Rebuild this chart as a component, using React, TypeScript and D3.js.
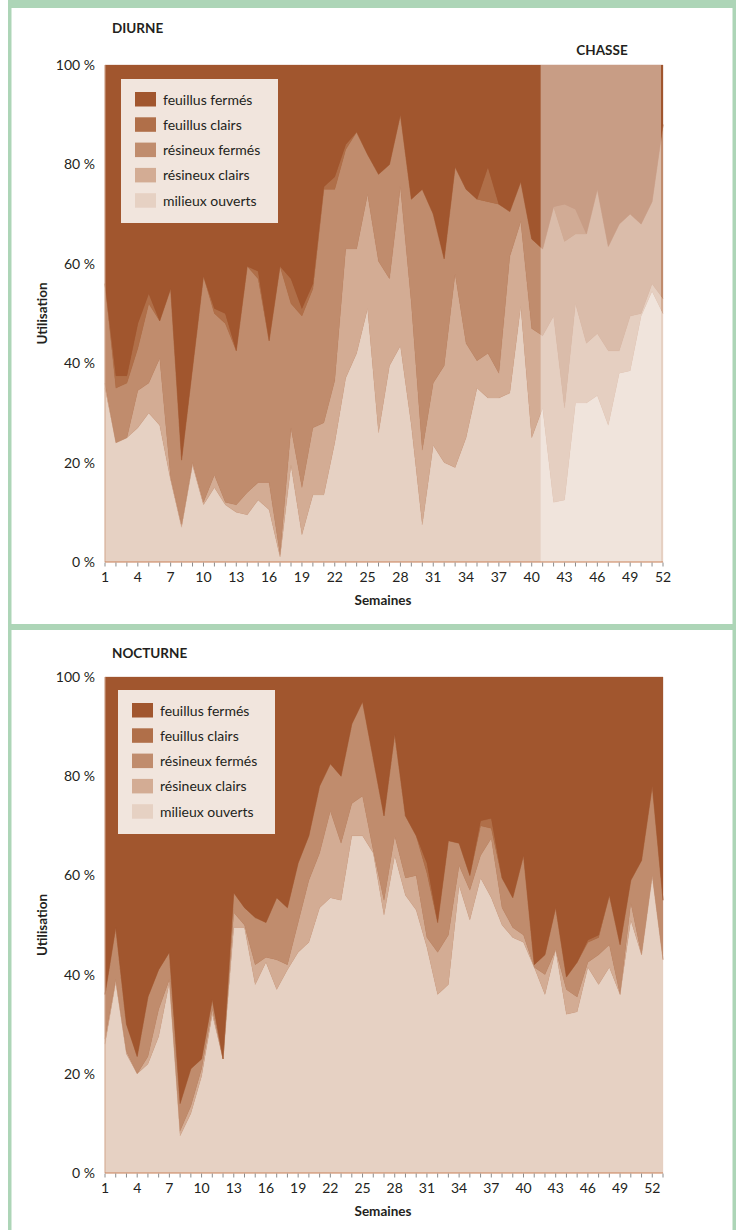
import React from 'react';
import * as d3 from 'd3';

// ---------- categories ----------
const weeksDiurne = [1,2,3,4,5,6,7,8,9,10,11,12,13,14,15,16,17,18,19,20,21,22,23,24,25,26,27,28,29,30,31,32,33,34,35,36,37,38,39,40,41,42,43,44,45,46,47,48,49,50,51,52];
const weeksNocturne = [1,2,3,4,5,6,7,8,9,10,11,12,13,14,15,16,17,18,19,20,21,22,23,24,25,26,27,28,29,30,31,32,33,34,35,36,37,38,39,40,41,42,43,44,45,46,47,48,49,50,51,52,53];
const xTickLabels = [1,4,7,10,13,16,19,22,25,28,31,34,37,40,43,46,49,52];
const yTickValues = [0,20,40,60,80,100];

// ---------- series names & colours ----------
const seriesKeys = ['mo','rc','rf','fc','ff'];
const legendNames = ['feuillus fermés','feuillus clairs','résineux fermés','résineux clairs','milieux ouverts'];
const legendKeys = ['ff','fc','rf','rc','mo'];
const seriesColors: Record<string,string> = {
  ff: '#a1562e',
  fc: '#b06f49',
  rf: '#c08c6d',
  rc: '#d3ac94',
  mo: '#e6d1c3',
};

// ---------- DIURNE (% use per week) ----------
const diurneMilieuxOuverts = [35,24,25,27,30,27.5,16.5,7,19.5,11.5,15,11.5,10,9.5,12.5,10.5,1,19.5,5.5,13.5,13.5,24,37,42,51,26,39.5,43.5,27.5,7.5,23.5,20,19,25,35,33,33,34,51.5,25,31,12,12.5,32,32,33.5,27.5,38,38.5,49.5,54.5,50];
const diurneResineuxClairs = [1,0,0,7.5,6,13.5,0.5,0.5,0.5,0.5,2.5,0.5,1.5,4.5,3.5,5.5,0.5,7.5,9.5,13.5,14.5,12.5,26,21,23,34.5,17.5,32,24.5,15,12.5,19.5,39,19,5.5,9,5,27.5,17,22,14.5,37.5,18.5,20,12,12.5,15,4.5,11,0.5,1.5,3];
const diurneResineuxFermes = [20,11,11,8.5,16,7.5,38,13,19,45.5,32.5,36,31,45.5,41,28.5,58,25,34.5,28,47,38.5,20,23.5,8,17.5,23,14.5,21,52.5,34,21.5,21.5,31,32.5,30.5,34,9,8,18,17.5,22,33.5,14,22,29,21,25.5,20.5,18,16.5,35];
const diurneFeuillusClairs = [0,2.5,1.5,5,2,0,0,0,0,0,1,2,0,0,1.5,0,0,5,1.5,1,0.5,2.5,1,0,0,0,0,0,0,0,0,0,0,0,0,7,0,0,0,0,0,0,7.5,5,0,0,0,0,0,0,0,0];
const diurneFeuillusFermes = [44,62.5,62.5,52,46,51.5,45,79.5,61,42.5,49,50,57.5,40.5,41.5,55.5,40.5,43,49,44,24.5,22.5,16,13.5,18,22,20,10,27,25,30,39,20.5,25,27,20.5,28,29.5,23.5,35,37,28.5,28,29,34,25,36.5,32,30,32,27.5,12];

// ---------- NOCTURNE (% use per week) ----------
const nocturneMilieuxOuverts = [26,38.5,24,20,22,27.5,38.5,7.5,12,19.5,32,23,49.5,49.5,38,42.5,37,41,44.5,46.5,53.5,55.5,55,68,68,64.5,52,64,56,53,45.5,36,38,58,51,59.5,55.5,50,47.5,46.5,41.5,36,45,32,32.5,41.5,38,41.5,36,51,44,60,43];
const nocturneResineuxClairs = [1,0.5,0.5,0,1.5,5.5,0.5,1,1.5,1.5,1,0,3,0.5,4,1,6,1,6,12.5,11,17.5,11.5,6.5,8,0.5,3,4,3.5,7,2,8.5,10,4,6,4.5,12,3.5,2,1.5,0,4,0,5,3,1,6,4.5,0,3.5,0,0,0];
const nocturneResineuxFermes = [9,10.5,5.5,3.5,12,8,5.5,5.5,7.5,2,2,0,4,3.5,9.5,7,12.5,11.5,12,9,13.5,9.5,13.5,16,19,18.5,17,20.5,12.5,8,13,6,19,4.5,3,6,2,6,6,16,0.5,4,8.5,2.5,7,4,3.5,10,10,4.5,19,18,12];
const nocturneFeuillusClairs = [0,0,0,0,0,0,0,0,0,0,0,0,0,0,0,0,0,0,0,0,0,0,0,0,0,0,0,0,0,0,2,0,0,0,0,1,2,0,0,0,0,0,0,0,0,0.5,0.5,0,0,0,0,0,0];
const nocturneFeuillusFermes = [64,50.5,70,76.5,64.5,59,55.5,86,79,77,65,77,43.5,46.5,48.5,49.5,44.5,46.5,37.5,32,22,17.5,20,9.5,5,16.5,28,11.5,28,32,37.5,49.5,33,33.5,40,29,28.5,40.5,44.5,36,58,56,46.5,60.5,57.5,53,52,44,54,41,37,22,45];

const FONT = 'Lato, "Open Sans", "DejaVu Sans", sans-serif';
const TXT = '#231f20';
const GREEN = '#add5b7';

type PanelProps = {
  weeks: number[];
  mo: number[]; rc: number[]; rf: number[]; fc: number[]; ff: number[];
  top: number; bottom: number; left: number; right: number;
  title: string; titleY: number;
  chasse?: boolean;
  legendX: number; legendY: number;
};

function Panel(p: PanelProps) {
  const rows = p.weeks.map((w, i) => ({ week: w, mo: p.mo[i], rc: p.rc[i], rf: p.rf[i], fc: p.fc[i], ff: p.ff[i] }));
  const x = d3.scaleLinear().domain([p.weeks[0], p.weeks[p.weeks.length - 1]]).range([p.left, p.right]);
  const y = d3.scaleLinear().domain([0, 100]).range([p.bottom, p.top]);
  const stack = d3.stack<any>().keys(seriesKeys);
  const layers = stack(rows);
  const area = d3.area<any>()
    .x((d: any) => x(d.data.week))
    .y0((d: any) => y(d[0]))
    .y1((d: any) => y(d[1]));
  const midY = (p.top + p.bottom) / 2;
  return (
    <g>
      <text x={112} y={p.titleY} fontFamily={FONT} fontWeight={700} fontSize={13.5} fill={TXT}>{p.title}</text>
      {p.chasse && (
        <text x={602} y={p.top - 10} textAnchor="middle" fontFamily={FONT} fontWeight={700} fontSize={13.5} fill={TXT}>CHASSE</text>
      )}
      <rect x={p.left} y={p.top} width={p.right - p.left} height={p.bottom - p.top} fill={seriesColors.ff} />
      {layers.map((L: any) => (
        <path key={L.key} d={area(L) || ''} fill={seriesColors[L.key]} stroke={seriesColors[L.key]} strokeWidth={0.3} />
      ))}
      {p.chasse && (
        <rect x={x(41) - 2} y={p.top} width={x(52) - 2 - (x(41) - 2)} height={p.bottom - p.top} fill="#ffffff" opacity={0.42} />
      )}
      <line x1={p.left} x2={p.left} y1={p.top} y2={p.bottom} stroke="#d2a88e" strokeWidth={1} />
      {yTickValues.map(v => (
        <text key={v} x={95} y={y(v)} dy="0.36em" textAnchor="end" fontFamily={FONT} fontSize={14} fill={TXT}>{v} %</text>
      ))}
      <line x1={p.left} x2={p.right} y1={p.bottom} y2={p.bottom} stroke="#c9825a" strokeWidth={1.2} />
      {p.weeks.map(w => (
        <line key={w} x1={x(w)} x2={x(w)} y1={p.bottom + 0.5} y2={p.bottom + 4.5} stroke="#8c8c8c" strokeWidth={1} />
      ))}
      {xTickLabels.map(w => (
        <text key={w} x={x(w)} y={p.bottom + 20} textAnchor="middle" fontFamily={FONT} fontSize={14} fill={TXT}>{w}</text>
      ))}
      <text x={383} y={p.bottom + 43} textAnchor="middle" fontFamily={FONT} fontWeight={700} fontSize={13.5} fill={TXT}>Semaines</text>
      <text transform={`translate(47,${midY}) rotate(-90)`} textAnchor="middle" fontFamily={FONT} fontWeight={700} fontSize={13.5} fill={TXT}>Utilisation</text>
      <rect x={p.legendX} y={p.legendY} width={157} height={144} fill="#f1e5dd" />
      {legendKeys.map((k, i) => (
        <g key={k}>
          <rect x={p.legendX + 14} y={p.legendY + 13 + i * 25.3} width={21} height={14.5} fill={seriesColors[k]} />
          <text x={p.legendX + 42} y={p.legendY + 20.5 + i * 25.3} dy="0.36em" fontFamily={FONT} fontSize={14} fill={TXT}>{legendNames[i]}</text>
        </g>
      ))}
    </g>
  );
}

export default function App() {
  return (
    <div style={{ position: 'absolute', left: 0, top: 0 }}>
      <svg width={743} height={1230} viewBox="0 0 743 1230" style={{ display: 'block' }}>
        <rect x={0} y={0} width={743} height={1230} fill="#ffffff" />
        <rect x={8} y={0} width={728} height={1230} fill={GREEN} />
        <rect x={11.5} y={8} width={721} height={616} fill="#ffffff" />
        <rect x={11.5} y={630} width={721} height={600} fill="#ffffff" />
        <Panel
          weeks={weeksDiurne}
          mo={diurneMilieuxOuverts} rc={diurneResineuxClairs} rf={diurneResineuxFermes} fc={diurneFeuillusClairs} ff={diurneFeuillusFermes}
          top={65} bottom={562} left={105} right={663}
          title="DIURNE" titleY={33} chasse legendX={121} legendY={79}
        />
        <Panel
          weeks={weeksNocturne}
          mo={nocturneMilieuxOuverts} rc={nocturneResineuxClairs} rf={nocturneResineuxFermes} fc={nocturneFeuillusClairs} ff={nocturneFeuillusFermes}
          top={677} bottom={1173} left={105} right={663}
          title="NOCTURNE" titleY={658} legendX={118} legendY={690}
        />
      </svg>
    </div>
  );
}
